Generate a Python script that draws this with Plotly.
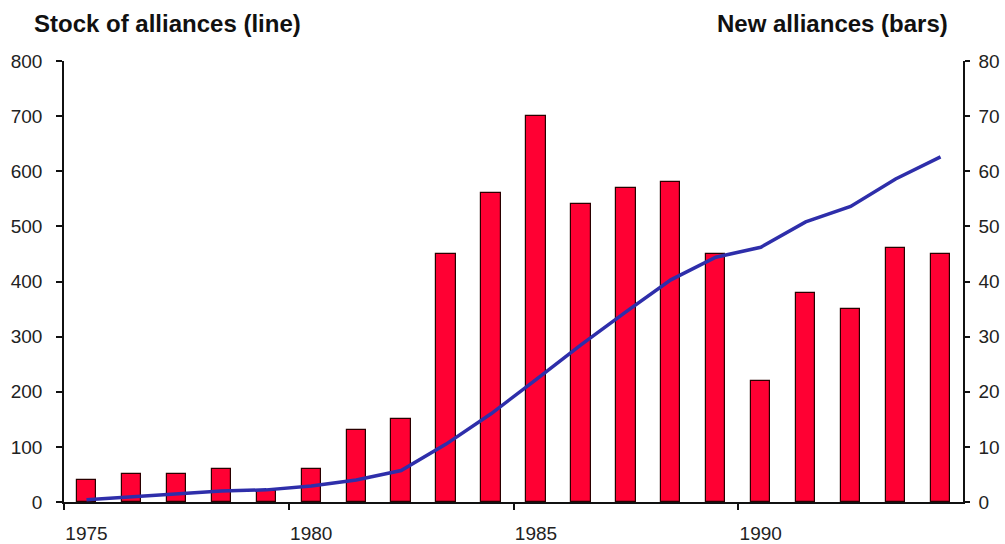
import plotly.graph_objects as go

# Yearly alliance counts: new alliances formed each year (bars)
# and the running stock of alliances (line)
years = list(range(1975, 1995))
new_alliances = [4, 5, 5, 6, 2, 6, 13, 15, 45, 56, 70, 54, 57, 58, 45, 22, 38, 35, 46, 45]
stock_alliances = [4, 9, 14, 20, 22, 29, 40, 57, 105, 160, 222, 285, 345, 403, 444, 462, 508, 536, 586, 626]

label_years = [1975, 1980, 1985, 1990]
stock_ticks = list(range(0, 801, 100))
new_ticks = list(range(0, 81, 10))

# each year occupies the slot [year, year+1]; marks sit in the middle of the slot
slot_centre = [y + 0.5 for y in years]

BAR_RED = "#FF0033"
LINE_BLUE = "#2E2EAA"
AXIS = "#111111"
TICK_FONT = dict(family="Liberation Sans, Arial, sans-serif", size=19, color="#222222")
TITLE_FONT = dict(family="Liberation Sans, Arial, sans-serif", size=24, color="#111111")

fig = go.Figure()

fig.add_trace(go.Bar(
    x=slot_centre, y=new_alliances, yaxis="y",
    width=0.43,
    marker=dict(color=BAR_RED, line=dict(color="#2a0000", width=1.2)),
    showlegend=False, hoverinfo="x+y",
))

fig.add_trace(go.Scatter(
    x=slot_centre, y=stock_alliances, yaxis="y2",
    mode="lines",
    line=dict(color=LINE_BLUE, width=3.5),
    showlegend=False,
))

fig.update_layout(
    width=1005, height=544,
    margin=dict(l=64, r=42, t=61, b=42, autoexpand=False),
    paper_bgcolor="white", plot_bgcolor="white",
    xaxis=dict(
        range=[1975, 1995], automargin=False,
        tickvals=[y + 0.5 for y in label_years],
        ticktext=[str(y) for y in label_years],
        ticks="", showgrid=False, zeroline=False,
        showline=True, linecolor=AXIS, linewidth=1.5,
        tickfont=TICK_FONT, ticklabelstandoff=13,
        minor=dict(tickvals=label_years, ticks="outside", ticklen=6,
                   tickcolor=AXIS, tickwidth=1.5, showgrid=False),
    ),
    # right-hand axis: new alliances (bars)
    yaxis=dict(
        side="right", range=[0, 80], tickvals=new_ticks, automargin=False,
        ticks="outside", ticklen=5, tickcolor=AXIS, tickwidth=1.5,
        showline=True, linecolor=AXIS, linewidth=1.5,
        showgrid=False, zeroline=False,
        tickfont=TICK_FONT, ticklabelstandoff=5,
    ),
    # left-hand axis: stock of alliances (line)
    yaxis2=dict(
        side="left", overlaying="y", range=[0, 800], tickvals=stock_ticks, automargin=False,
        ticks="outside", ticklen=6, tickcolor=AXIS, tickwidth=1.5,
        showline=True, linecolor=AXIS, linewidth=1.5,
        showgrid=False, zeroline=False,
        tickfont=TICK_FONT, ticklabelstandoff=10,
    ),
    # inner half of the crossing tick marks on the right axis
    yaxis3=dict(
        side="right", overlaying="y", anchor="x", range=[0, 80], tickvals=new_ticks,
        automargin=False,
        ticks="inside", ticklen=5, tickcolor=AXIS, tickwidth=1.5,
        showticklabels=False, showline=False, showgrid=False, zeroline=False,
    ),
    bargap=0,
)

fig.add_annotation(
    text="<b>Stock of alliances (line)</b>", xref="paper", yref="paper",
    x=-0.0356, y=1.084, xanchor="left", yanchor="middle",
    showarrow=False, font=TITLE_FONT,
)
fig.add_annotation(
    text="<b>New alliances (bars)</b>", xref="paper", yref="paper",
    x=0.9855, y=1.084, xanchor="right", yanchor="middle",
    showarrow=False, font=TITLE_FONT,
)

fig.write_html("out.html")
